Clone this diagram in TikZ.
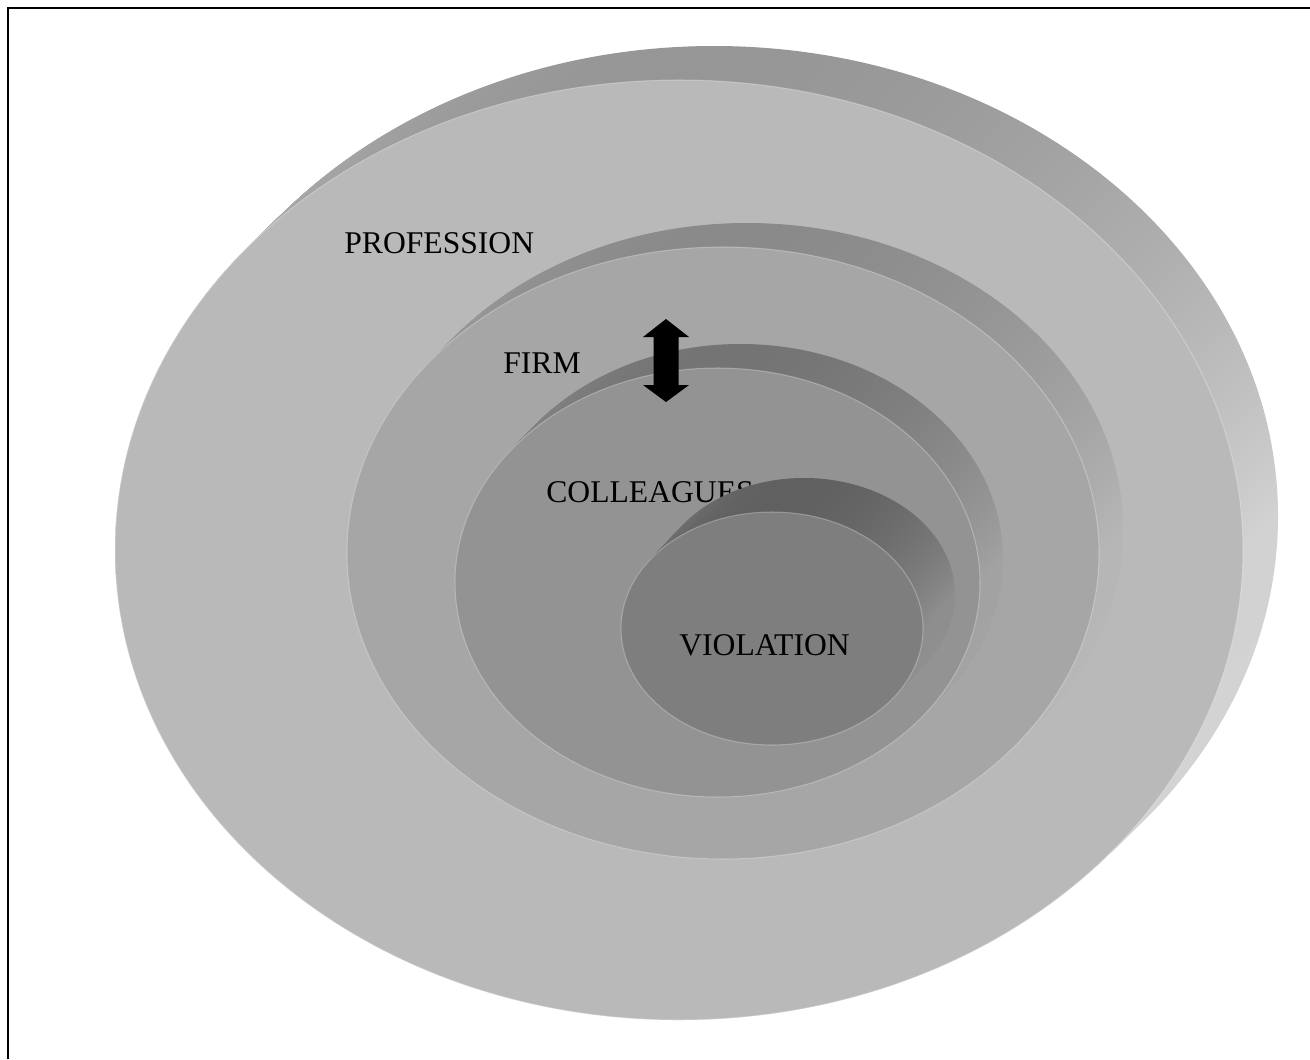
\documentclass[tikz,border=0pt]{standalone}
\usepackage{fontspec}
\setmainfont{Liberation Serif}
\definecolor{proffront}{HTML}{B9B9B9}
\definecolor{proftop}{HTML}{969696}
\definecolor{profmid}{HTML}{D2D2D2}
\definecolor{profbot}{HTML}{D4D4D4}
\definecolor{firmfront}{HTML}{A6A6A6}
\definecolor{firmtop}{HTML}{8A8A8A}
\definecolor{firmmid}{HTML}{B6B6B6}
\definecolor{firmbot}{HTML}{B8B8B8}
\definecolor{collfront}{HTML}{939393}
\definecolor{colltop}{HTML}{747474}
\definecolor{collmid}{HTML}{A2A2A2}
\definecolor{collbot}{HTML}{A4A4A4}
\definecolor{violfront}{HTML}{7E7E7E}
\definecolor{violtop}{HTML}{606060}
\definecolor{violmid}{HTML}{8E8E8E}
\definecolor{violbot}{HTML}{909090}
% #1 cx, #2 cy, #3 rx, #4 ry, #5 dx, #6 dy, #7 colour prefix
\newcommand\drawdisc[7]{%
  \foreach \i in {0,...,40}{%
    \pgfmathsetmacro\s{1-\i/40}%
    \shade[top color=#7top, bottom color=#7bot, middle color=#7mid]
      ({#1+\s*(#5)},{#2+\s*(#6)}) ellipse [x radius=#3, y radius=#4];
  }%
  \fill[#7front] (#1,#2) ellipse [x radius=#3, y radius=#4];
  \draw[rim] (#1,#2) ellipse [x radius=#3, y radius=#4];
}
\begin{document}
\begin{tikzpicture}[x=0.02cm,y=-0.02cm,
  label/.style={inner sep=0pt, anchor=base west, font=\fontsize{18}{20}\selectfont, text=black},
  rim/.style={draw=white, draw opacity=0.28, line width=0.6pt},
  frame/.style={draw=black, line width=1pt}]
\useasboundingbox (0,0) rectangle (1310,1059);
\draw[frame] (8,1059) -- (8,8) -- (1310,8);

% PROFESSION
\drawdisc{679}{550}{564}{470}{35}{-34}{prof}
\node[label] (profession) at (344,253) {PROFESSION};

% FIRM
\drawdisc{723}{553}{376}{306}{24}{-24}{firm}
\node[label] (firm) at (503,373) {FIRM};

% COLLEAGUES
\drawdisc{717.5}{582.5}{262.5}{214.5}{23}{-24}{coll}
\node[label] (colleagues) at (546,502) {COLLEAGUES};

% double arrow
\coordinate (atop) at (666,319);
\coordinate (abot) at (666,402);
\fill[black] (atop) -- (689,337) -- (678.5,337) -- (678.5,385) -- (689,385)
  -- (abot) -- (643,385) -- (653.5,385) -- (653.5,337) -- (643,337) -- cycle;

% VIOLATION
\drawdisc{772}{628.5}{151}{116.5}{32}{-34}{viol}
\node[label] (violation) at (679,655) {VIOLATION};
\end{tikzpicture}
\end{document}
